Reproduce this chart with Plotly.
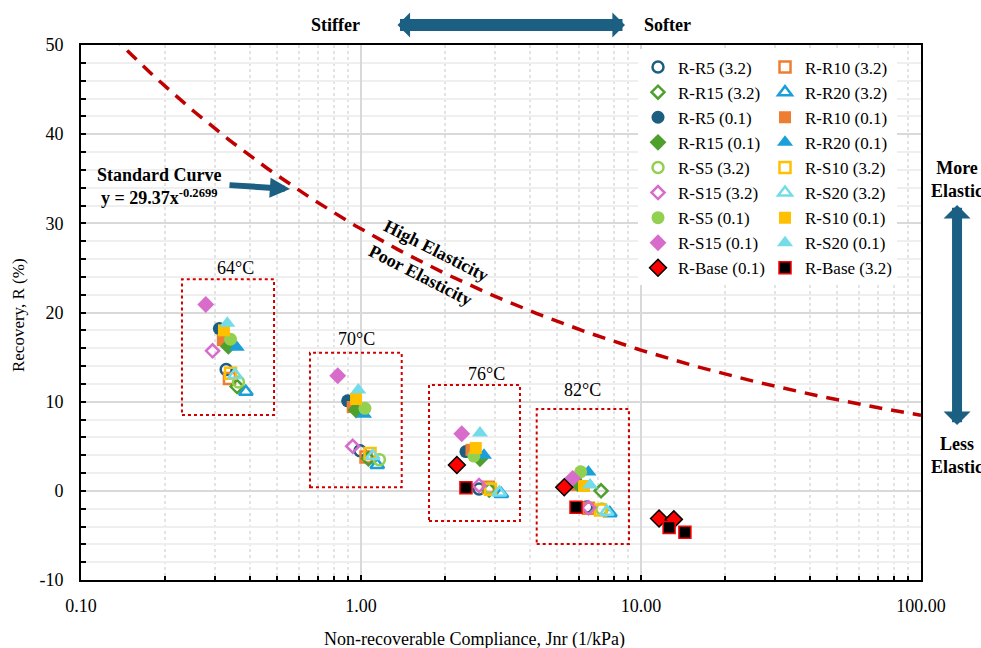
import numpy as np
import plotly.graph_objects as go

# ---------------- data ----------------
series_names = [
    "R-R5 (3.2)", "R-R10 (3.2)", "R-R15 (3.2)", "R-R20 (3.2)",
    "R-R5 (0.1)", "R-R10 (0.1)", "R-R15 (0.1)", "R-R20 (0.1)",
    "R-S5 (3.2)", "R-S10 (3.2)", "R-S15 (3.2)", "R-S20 (3.2)",
    "R-S5 (0.1)", "R-S10 (0.1)", "R-S15 (0.1)", "R-S20 (0.1)",
    "R-Base (0.1)", "R-Base (3.2)",
]

rr5_32_x = [0.330, 0.992, 2.64, 6.40];   rr5_32_y = [13.6, 4.5, 0.2, -1.8]
rr10_32_x = [0.339, 1.042, 2.85, 6.49];  rr10_32_y = [12.6, 3.8, 0.4, -1.95]
rr15_32_x = [0.361, 1.063, 2.87, 7.20];  rr15_32_y = [11.7, 3.6, 0.1, 0.0]
rr20_32_x = [0.388, 1.143, 3.17, 7.74];  rr20_32_y = [11.1, 2.9, -0.35, -2.5]
rr5_01_x = [0.312, 0.896, 2.37, 5.86];   rr5_01_y = [18.2, 10.1, 4.4, 1.0]
rr10_01_x = [0.321, 0.934, 2.48, 5.81];  rr10_01_y = [16.9, 9.4, 4.6, 0.65]
rr15_01_x = [0.336, 0.960, 2.66, 5.95];  rr15_01_y = [16.2, 9.06, 3.6, 0.8]
rr20_01_x = [0.360, 1.025, 2.75, 6.49];  rr20_01_y = [16.1, 8.6, 4.0, 2.1]
rs5_32_x = [0.365, 1.163, 2.90, 7.25];   rs5_32_y = [12.2, 3.5, 0.3, -2.05]
rs10_32_x = [0.342, 1.077, 2.90, 7.17];  rs10_32_y = [13.2, 4.2, 0.17, -2.15]
rs15_32_x = [0.295, 0.934, 2.64, 6.50];  rs15_32_y = [15.7, 5.0, 0.6, -1.9]
rs20_32_x = [0.355, 1.101, 3.12, 7.54];  rs20_32_y = [13.0, 3.9, -0.2, -2.34]
rs5_01_x = [0.342, 1.033, 2.53, 6.09];   rs5_01_y = [17.0, 9.25, 3.9, 2.14]
rs10_01_x = [0.324, 0.960, 2.57, 6.26];  rs10_01_y = [18.0, 10.3, 4.8, 0.54]
rs15_01_x = [0.279, 0.826, 2.29, 5.70];  rs15_01_y = [20.9, 12.9, 6.4, 1.4]
rs20_01_x = [0.333, 0.978, 2.66, 6.58];  rs20_01_y = [18.8, 11.3, 6.5, 0.65]
base_01_x = [2.20, 5.32, 11.6, 13.1];    base_01_y = [2.9, 0.4, -3.1, -3.2]
base_32_x = [2.37, 5.86, 12.6, 14.35];   base_32_y = [0.35, -1.85, -4.1, -4.65]

# Standard curve: y = 29.37 x^-0.2699
curve_a = 29.37
curve_b = -0.2699
curve_x = list(np.logspace(-1, 2, 200))
curve_y = [curve_a * v ** curve_b for v in curve_x]

x_tickvals = [0.1, 1, 10, 100]
x_ticktext = ["0.10", "1.00", "10.00", "100.00"]
x_minor = [m * d for d in (0.1, 1, 10) for m in range(2, 10)]
y_tickvals = [-10, 0, 10, 20, 30, 40, 50]
y_ticktext = ["-10", "0", "10", "20", "30", "40", "50"]

# ---------------- styles ----------------
FONT = "Liberation Serif, Times New Roman, serif"
C_R5 = "#1b5e80"; C_R10 = "#ed7d31"; C_R15 = "#4f9f2c"; C_R20 = "#1a9fd9"
C_S5 = "#92d050"; C_S10 = "#ffc000"; C_S15 = "#d76ccb"; C_S20 = "#74dbe8"
ARROW = "#1b5f82"

xs = [rr5_32_x, rr10_32_x, rr15_32_x, rr20_32_x, rr5_01_x, rr10_01_x, rr15_01_x, rr20_01_x,
      rs5_32_x, rs10_32_x, rs15_32_x, rs20_32_x, rs5_01_x, rs10_01_x, rs15_01_x, rs20_01_x,
      base_01_x, base_32_x]
ys = [rr5_32_y, rr10_32_y, rr15_32_y, rr20_32_y, rr5_01_y, rr10_01_y, rr15_01_y, rr20_01_y,
      rs5_32_y, rs10_32_y, rs15_32_y, rs20_32_y, rs5_01_y, rs10_01_y, rs15_01_y, rs20_01_y,
      base_01_y, base_32_y]

def open_m(sym, col, size):
    return dict(symbol=sym + "-open", color=col, size=size, line=dict(color=col, width=2.5))

def fill_m(sym, col, size):
    return dict(symbol=sym, color=col, size=size, line=dict(width=0))

markers = [
    open_m("circle", C_R5, 11), open_m("square", C_R10, 11), open_m("diamond", C_R15, 10), open_m("triangle-up", C_R20, 12),
    fill_m("circle", C_R5, 13), fill_m("square", C_R10, 12), fill_m("diamond", C_R15, 13), fill_m("triangle-up", C_R20, 14),
    open_m("circle", C_S5, 11), open_m("square", C_S10, 11), open_m("diamond", C_S15, 10), open_m("triangle-up", C_S20, 12),
    fill_m("circle", C_S5, 13), fill_m("square", C_S10, 12), fill_m("diamond", C_S15, 13), fill_m("triangle-up", C_S20, 14),
    dict(symbol="diamond", color="#ff0000", size=13, line=dict(color="black", width=1.5)),
    dict(symbol="square", color="black", size=12, line=dict(color="#ff0000", width=1.5)),
]
legend_of = ["legend", "legend2"] * 9

fig = go.Figure()
fig.add_trace(go.Scatter(x=curve_x, y=curve_y, mode="lines", showlegend=False, hoverinfo="skip",
                         line=dict(color="#c00000", width=3.5, dash="13px,9px")))
for name, x, y, m, lg in zip(series_names, xs, ys, markers, legend_of):
    fig.add_trace(go.Scatter(x=x, y=y, mode="markers", name=name, marker=m, legend=lg))

# ---------------- shapes / annotations ----------------
shapes = []
boxes = [(0.1202, 0.2298, 0.3084, 0.562), (0.2726, 0.3818, 0.1733, 0.4249),
         (0.4143, 0.5226, 0.1103, 0.3645), (0.5425, 0.6524, 0.0673, 0.3196)]
for x0, x1, y0, y1 in boxes:
    shapes.append(dict(type="rect", xref="paper", yref="paper", x0=x0, x1=x1, y0=y0, y1=y1,
                       line=dict(color="#d00000", width=2, dash="dot")))

C = dict(xref="paper", yref="paper", xanchor="center", yanchor="middle")
ann = []
temps = [("64°C", 0.1845, 0.5832), ("70°C", 0.3274, 0.4505), ("76°C", 0.4833, 0.3850), ("82°C", 0.5973, 0.3551)]
for t, x, y in temps:
    ann.append(dict(text=t, x=x, y=y, showarrow=False, font=dict(size=18), **C))

bold = dict(size=18, family=FONT, color="black")
ann += [
    dict(text="<b>Stiffer</b>", x=0.3024, y=1.0374, showarrow=False, font=bold, **C),
    dict(text="<b>Softer</b>", x=0.6988, y=1.0374, showarrow=False, font=bold, **C),
    dict(text=" ", x=0.6476, y=1.0374, ax=-229, ay=0, axref="pixel", ayref="pixel",
         showarrow=True, arrowhead=1, startarrowhead=1, arrowside="end+start", arrowwidth=12,
         arrowsize=0.35, startarrowsize=0.35, arrowcolor=ARROW, standoff=0, startstandoff=0,
         font=dict(size=1), **C),
    dict(text="<b>More<br>Elastic</b>", x=1.0429, y=0.7477, showarrow=False, font=bold, **C),
    dict(text="<b>Less<br>Elastic</b>", x=1.0429, y=0.2336, showarrow=False, font=bold, **C),
    dict(text=" ", x=1.0429, y=0.7009, ax=0, ay=222, axref="pixel", ayref="pixel",
         showarrow=True, arrowhead=1, startarrowhead=1, arrowside="end+start", arrowwidth=10,
         arrowsize=0.45, startarrowsize=0.45, arrowcolor=ARROW, standoff=0, startstandoff=0,
         font=dict(size=1), **C),
    dict(text="<b>Standard Curve</b><br><b>y = 29.37x<sup>-0.2699</sup></b>", x=0.094, y=0.7364,
         showarrow=False, font=dict(size=18, family=FONT), **C),
    dict(text=" ", x=0.2488, y=0.7308, ax=-62, ay=-4, axref="pixel", ayref="pixel",
         showarrow=True, arrowhead=2, arrowwidth=6, arrowsize=0.67, arrowcolor=ARROW, standoff=0,
         font=dict(size=1), **C),
    dict(text="<b>High Elasticity</b>", x=0.4238, y=0.615, showarrow=False,
         textangle=27, font=dict(size=18), **C),
    dict(text="<b>Poor Elasticity</b>", x=0.4036, y=0.570, showarrow=False,
         textangle=27, font=dict(size=18), **C),
    dict(text="Non-recoverable Compliance, Jnr (1/kPa)", x=0.4679, y=-0.1121,
         showarrow=False, font=dict(size=18), **C),
    dict(text="Recovery, R (%)", x=-0.075, y=0.4953, showarrow=False,
         textangle=-90, font=dict(size=17), **C),
]

leg_common = dict(yanchor="top", xanchor="left", bgcolor="white", font=dict(size=17, color="black", family=FONT),
                  tracegroupgap=0, borderwidth=0, itemwidth=30)

fig.update_layout(
    width=981, height=648,
    margin=dict(l=81, r=60, t=45, b=68),
    plot_bgcolor="white", paper_bgcolor="white",
    font=dict(family=FONT, size=16, color="black"),
    shapes=shapes, annotations=ann,
    legend=dict(x=0.6631, y=0.9916, **leg_common),
    legend2=dict(x=0.8143, y=0.9916, **leg_common),
    xaxis=dict(type="log", range=[-1, 2], tickvals=x_tickvals, ticktext=x_ticktext,
               ticks="inside", ticklen=5, tickwidth=1.5, tickcolor="black",
               showline=True, linecolor="black", linewidth=2, mirror=True,
               showgrid=True, gridcolor="#d9d9d9", gridwidth=2, zeroline=False,
               tickfont=dict(size=18), ticklabelstandoff=8,
               minor=dict(tickvals=x_minor, ticks="inside", ticklen=4, tickwidth=1.5, tickcolor="black",
                          showgrid=True, gridcolor="#e3e3e3", griddash="dot", gridwidth=1.5)),
    yaxis=dict(range=[-10, 50], tickvals=y_tickvals, ticktext=y_ticktext,
               ticks="inside", ticklen=5, tickwidth=1.5, tickcolor="black",
               showline=True, linecolor="black", linewidth=2, mirror=True,
               showgrid=True, gridcolor="#d9d9d9", gridwidth=2, zeroline=False,
               tickfont=dict(size=18), ticklabelstandoff=12,
               minor=dict(dtick=2, tick0=0, ticks="inside", ticklen=5, tickwidth=1.5, tickcolor="black",
                          showgrid=True, gridcolor="#efefef", gridwidth=2)),
)

fig.write_html("out.html")
